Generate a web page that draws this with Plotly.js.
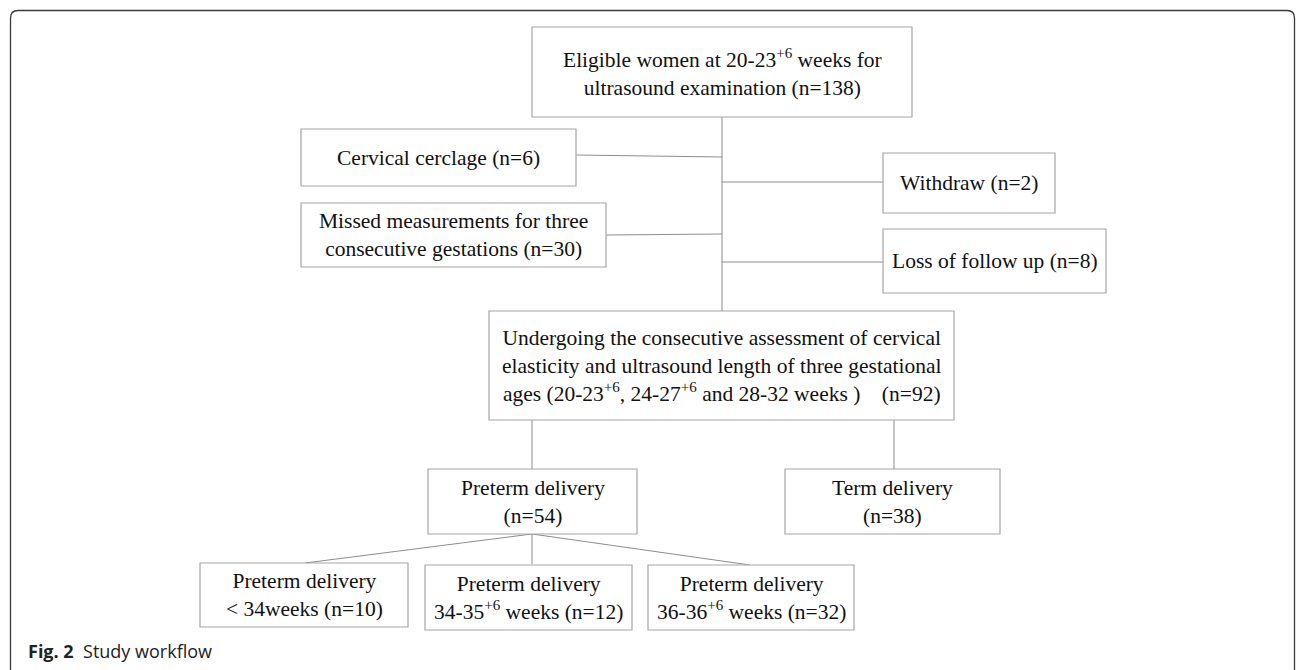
<!DOCTYPE html>
<html>
<head>
<meta charset="utf-8">
<script src="https://cdn.plot.ly/plotly-3.0.1.min.js"></script>
<style>html,body{margin:0;padding:0;background:#fff;}#chart{width:1296px;height:670px;}</style>
</head>
<body>
<div id="chart"></div>
<script>
// ---- data: flow stages and counts ----
const nodeLabels = [
  "Eligible women at 20-23<sup>+6</sup> weeks for<br>ultrasound examination",
  "Cervical cerclage",
  "Missed measurements for three<br>consecutive gestations",
  "Withdraw",
  "Loss of follow up",
  "Undergoing the consecutive assessment of cervical<br>elasticity and ultrasound length of three gestational<br>ages (20-23<sup>+6</sup>, 24-27<sup>+6</sup> and 28-32 weeks )\u00a0\u00a0\u00a0",
  "Preterm delivery<br>",
  "Term delivery<br>",
  "Preterm delivery<br>&lt; 34weeks",
  "Preterm delivery<br>34-35<sup>+6</sup> weeks",
  "Preterm delivery<br>36-36<sup>+6</sup> weeks"
];
const nodeCounts = [138, 6, 30, 2, 8, 92, 54, 38, 10, 12, 32];
const captionBold = "Fig. 2";
const captionText = "Study workflow";

// ---- layout (pixel positions of boxes: x0, y0, x1, y1) ----
const boxes = [
  [532, 27, 912, 117],
  [301, 129, 576, 186],
  [301, 203, 606, 267],
  [883, 153, 1055, 213],
  [883, 229, 1106, 293],
  [489, 311, 954, 420],
  [428, 469, 637, 534],
  [785, 469, 1000, 534],
  [200, 563, 408, 627],
  [425, 565, 632, 630],
  [648, 565, 854, 630]
];
const links = [
  [722, 117, 722, 311],
  [576, 155, 722, 157],
  [606, 235, 722, 234],
  [722, 182, 883, 182],
  [722, 262, 883, 262],
  [532, 420, 532, 469],
  [894, 420, 894, 469],
  [532, 534, 305, 563],
  [532, 534, 532, 564],
  [532, 534, 750, 565]
];

const shapes = [];
// outer frame with rounded corners
shapes.push({
  type: 'path', xref: 'x', yref: 'y',
  path: 'M 10.5,680 L 10.5,18 Q 10.5,10.5 18,10.5 L 1287,10.5 Q 1294.5,10.5 1294.5,18 L 1294.5,680',
  line: {color: '#3a3a3a', width: 1.3}
});
links.forEach(l => shapes.push({
  type: 'line', xref: 'x', yref: 'y', x0: l[0], y0: l[1], x1: l[2], y1: l[3],
  line: {color: '#8c8c8c', width: 1}
}));
boxes.forEach(b => shapes.push({
  type: 'rect', xref: 'x', yref: 'y', x0: b[0], y0: b[1], x1: b[2], y1: b[3],
  fillcolor: '#ffffff', line: {color: '#a6a6a6', width: 1.2}
}));

const annotations = nodeLabels.map((lab, i) => {
  const b = boxes[i];
  const sep = lab.endsWith('<br>') ? '' : ' ';
  return {
    xref: 'x', yref: 'y', x: (b[0] + b[2]) / 2, y: (b[1] + b[3]) / 2,
    xanchor: 'center', yanchor: 'middle', showarrow: false, align: 'center',
    text: lab + sep + '(n=' + nodeCounts[i] + ')',
    font: {family: 'Liberation Serif, Times New Roman, serif', size: 21.5, color: '#111111'}
  };
});
annotations.push({
  xref: 'x', yref: 'y', x: 26, y: 651, xanchor: 'left', yanchor: 'middle', showarrow: false,
  text: '<b>' + captionBold + '</b>\u00a0\u00a0' + captionText,
  font: {family: 'Open Sans, Noto Sans, sans-serif', size: 18, color: '#222222'}
});

const layout = {
  width: 1296, height: 670,
  margin: {l: 0, r: 0, t: 0, b: 0, pad: 0},
  paper_bgcolor: '#ffffff', plot_bgcolor: '#ffffff',
  showlegend: false,
  xaxis: {range: [0, 1296], visible: false, fixedrange: true},
  yaxis: {range: [670, 0], visible: false, fixedrange: true},
  shapes: shapes,
  annotations: annotations
};

Plotly.newPlot('chart', [{x: [], y: [], type: 'scatter', mode: 'markers', hoverinfo: 'skip'}], layout, {staticPlot: true, displayModeBar: false});
</script>
</body>
</html>
